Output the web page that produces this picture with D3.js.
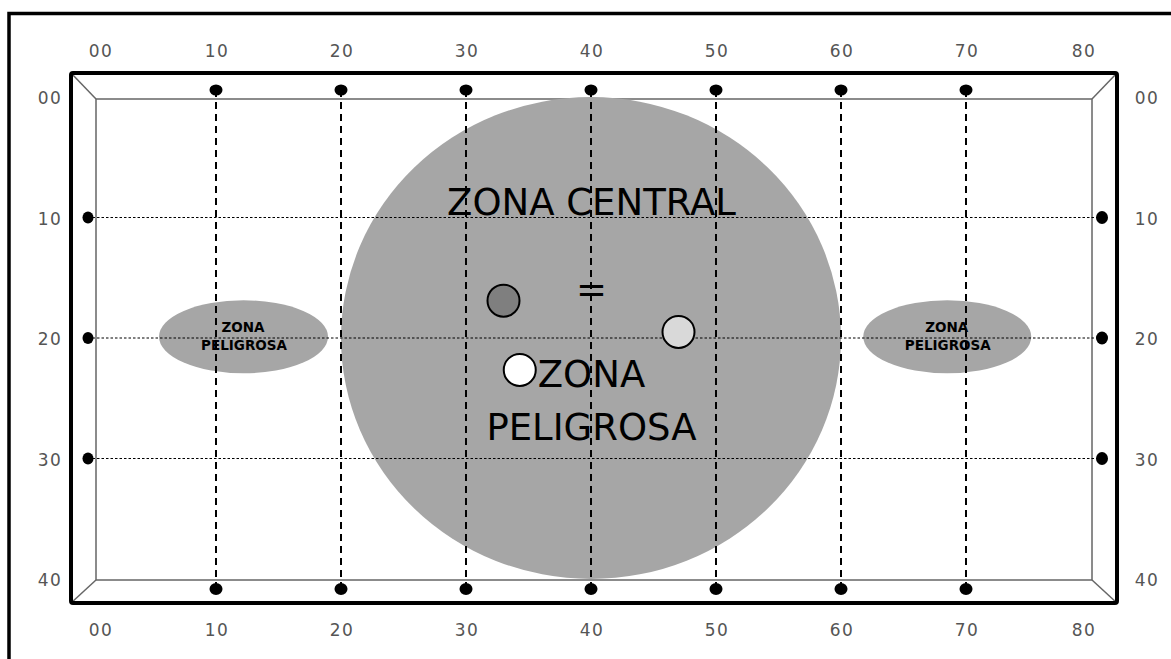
<!DOCTYPE html>
<html><head><meta charset="utf-8">
<script src="https://cdn.jsdelivr.net/npm/d3@7"></script>
<style>html,body{margin:0;padding:0;background:#fff;}svg{display:block;}</style>
</head><body>
<svg id="chart" width="1171" height="659"></svg>
<script>
// ---- data ----
const xTickValues = [0, 10, 20, 30, 40, 50, 60, 70, 80];
const xTickLabels = ["00", "10", "20", "30", "40", "50", "60", "70", "80"];
const yTickValues = [0, 10, 20, 30, 40];
const yTickLabels = ["00", "10", "20", "30", "40"];
const gridX = [10, 20, 30, 40, 50, 60, 70];
const gridY = [10, 20, 30];
const centralZone = [{cx: 40, cy: 20, rx: 20, ry: 20}];
const dangerZones = [{cx: 12.2, cy: 19.9, rx: 6.76, ry: 3.03}, {cx: 68.5, cy: 19.9, rx: 6.72, ry: 3.03}];
const dangerLabels = ["ZONA", "PELIGROSA"];
const markerNames = ["dark", "white", "light"];
const markerX = [33.0, 34.3, 47.0];
const markerY = [16.9, 22.65, 19.5];
const markerFill = ["#7f7f7f", "#ffffff", "#d9d9d9"];

// ---- scales ----
const x = d3.scaleLinear().domain([0, 80]).range([91, 1091]);
const y = d3.scaleLinear().domain([0, 40]).range([97, 579]);

const svg = d3.select("#chart");
const font = "'DejaVu Sans', Verdana, sans-serif";

// outer frame
svg.append("rect").attr("x", 9).attr("y", 13.5).attr("width", 1300).attr("height", 800)
  .attr("fill", "none").attr("stroke", "#000").attr("stroke-width", 3.5);

// field frame
const outerL = x(0) - 20, outerR = x(80) + 26, outerT = y(0) - 24, outerB = y(40) + 24;
const innerL = x(0) + 5, innerR = x(80) + 1, innerT = y(0) + 2, innerB = y(40) + 1;
const g = svg.append("g");
[[outerL, outerT, innerL, innerT], [outerR, outerT, innerR, innerT],
 [outerL, outerB, innerL, innerB], [outerR, outerB, innerR, innerB]].forEach(p => {
  g.append("line").attr("x1", p[0]).attr("y1", p[1]).attr("x2", p[2]).attr("y2", p[3])
    .attr("stroke", "#666").attr("stroke-width", 1.5);
});
g.append("rect").attr("x", innerL).attr("y", innerT).attr("width", innerR - innerL).attr("height", innerB - innerT)
  .attr("fill", "none").attr("stroke", "#666").attr("stroke-width", 1.5);
g.append("rect").attr("x", outerL).attr("y", outerT).attr("width", outerR - outerL).attr("height", outerB - outerT)
  .attr("rx", 2).attr("fill", "none").attr("stroke", "#000").attr("stroke-width", 4);

// zones
svg.selectAll(".central").data(centralZone).join("ellipse")
  .attr("cx", d => x(d.cx)).attr("cy", d => y(d.cy))
  .attr("rx", d => x(d.rx) - x(0)).attr("ry", d => y(d.ry) - y(0))
  .attr("fill", "#a6a6a6");
svg.selectAll(".danger").data(dangerZones).join("ellipse")
  .attr("cx", d => x(d.cx)).attr("cy", d => y(d.cy))
  .attr("rx", d => x(d.rx) - x(0)).attr("ry", d => y(d.ry) - y(0))
  .attr("fill", "#a6a6a6");

// texts
dangerZones.forEach(d => {
  dangerLabels.forEach((t, i) => {
    svg.append("text").attr("x", x(d.cx) + (i === 0 ? -0.5 : 0.5)).attr("y", y(d.cy) - 4.5 + i * 18)
      .attr("text-anchor", "middle").attr("font-family", font).attr("font-weight", "bold")
      .attr("font-size", 13.5).attr("fill", "#000").text(t);
  });
});
const cz = centralZone[0];
const bigText = [["ZONA CENTRAL", -123], ["=", -36], ["ZONA", 49], ["PELIGROSA", 102]];
bigText.forEach(([t, dy]) => {
  svg.append("text").attr("x", x(cz.cx) + 0.5).attr("y", y(cz.cy) + dy)
    .attr("text-anchor", "middle").attr("font-family", font).attr("font-size", 37)
    .attr("fill", "#000").text(t);
});

// grid lines
svg.selectAll(".vgrid").data(gridX).join("line")
  .attr("x1", d => x(d)).attr("x2", d => x(d))
  .attr("y1", y(0) - 7).attr("y2", y(40) + 10)
  .attr("stroke", "#000").attr("stroke-width", 2).attr("stroke-dasharray", "7,5");
svg.selectAll(".hgrid").data(gridY).join("line")
  .attr("x1", x(0) - 3).attr("x2", x(80) + 11)
  .attr("y1", d => y(d)).attr("y2", d => y(d))
  .attr("stroke", "#000").attr("stroke-width", 1).attr("stroke-dasharray", "2.5,2");

// grid end dots
const dots = svg.append("g");
gridX.forEach(v => {
  dots.append("ellipse").attr("cx", x(v)).attr("cy", y(0) - 7).attr("rx", 6.5).attr("ry", 5.5);
  dots.append("ellipse").attr("cx", x(v)).attr("cy", y(40) + 10).attr("rx", 6.5).attr("ry", 6);
});
gridY.forEach(v => {
  dots.append("ellipse").attr("cx", x(0) - 3).attr("cy", y(v)).attr("rx", 5.5).attr("ry", 6);
  dots.append("ellipse").attr("cx", x(80) + 11).attr("cy", y(v)).attr("rx", 6).attr("ry", 6.5);
});
dots.selectAll("ellipse").attr("fill", "#000");

// markers
svg.selectAll(".marker").data(markerNames).join("circle")
  .attr("cx", (d, i) => x(markerX[i])).attr("cy", (d, i) => y(markerY[i]))
  .attr("r", 16).attr("fill", (d, i) => markerFill[i])
  .attr("stroke", "#000").attr("stroke-width", 2);

// tick labels
const lblX = v => Math.min(Math.max(x(v), 100), 1083);
const tickStyle = s => s.attr("font-family", font).attr("font-size", 17)
  .attr("letter-spacing", 1.5).attr("fill", "#555");
xTickValues.forEach((v, i) => {
  tickStyle(svg.append("text").attr("x", lblX(v) + 1).attr("y", 57).attr("text-anchor", "middle").text(xTickLabels[i]));
  tickStyle(svg.append("text").attr("x", lblX(v) + 1).attr("y", 636).attr("text-anchor", "middle").text(xTickLabels[i]));
});
yTickValues.forEach((v, i) => {
  tickStyle(svg.append("text").attr("x", 50).attr("y", y(v) + 7).attr("text-anchor", "middle").text(yTickLabels[i]));
  tickStyle(svg.append("text").attr("x", 1147).attr("y", y(v) + 7).attr("text-anchor", "middle").text(yTickLabels[i]));
});
</script>
</body></html>
